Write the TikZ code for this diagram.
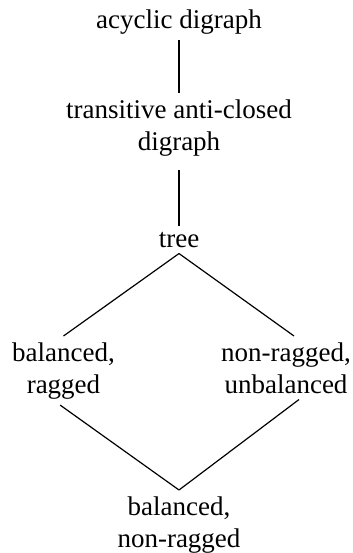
\documentclass[tikz,border=0pt]{standalone}
\usepackage{fontspec}
\setmainfont{Liberation Serif}
\begin{document}
\begin{tikzpicture}[x=0.75pt,y=-0.75pt,
  lbl/.style={font=\fontsize{20.25pt}{24pt}\selectfont, align=center,
    inner xsep=0pt, inner ysep=4.5pt, anchor=base},
  link/.style={draw=black, line width=0.9pt}]
\useasboundingbox (0,0) rectangle (353,553);
% class nodes, placed by the baseline of their last line
\node[lbl] (acyc) at (179,28)  {acyclic digraph};
\node[lbl] (tac)  at (179,150) {transitive anti-closed\\digraph};
\node[lbl] (tree) at (179,247) {tree};
\node[lbl] (br)   at (63.5,393) {balanced,\\ragged};
\node[lbl] (nu)   at (286,393) {non-ragged,\\unbalanced};
\node[lbl] (bn)   at (179,547) {balanced,\\non-ragged};
% inclusion links
\draw[link] (acyc.south) -- (tac.north);
\draw[link, shorten <=6pt] (tac.south) -- (tree.north);
\draw[link] (tree.south) -- (br.north);
\draw[link] (tree.south) -- ([xshift=6pt]nu.north);
\draw[link] ([xshift=-2.5pt]br.south) -- (bn.north);
\draw[link] ([xshift=9.75pt]nu.south) -- (bn.north);
\end{tikzpicture}
\end{document}
